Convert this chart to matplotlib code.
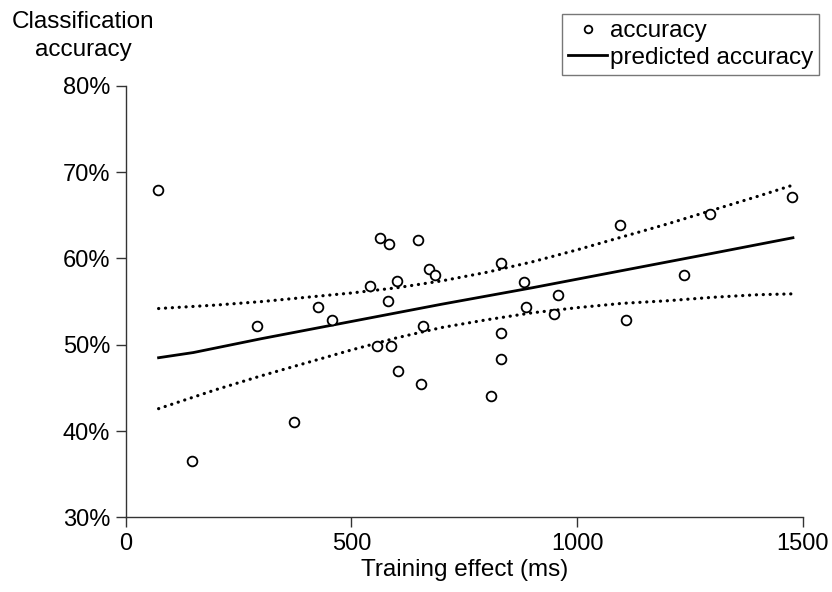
import matplotlib.pyplot as plt
from matplotlib.ticker import FuncFormatter
from matplotlib.lines import Line2D

plt.rcParams['font.family'] = ['Liberation Sans', 'DejaVu Sans']

# training effect (ms) and classification accuracy (%) per subject
training_ms = [72, 147, 290, 374, 426, 456, 541, 563, 583, 581, 600, 557, 587, 603, 648, 654,
               659, 672, 685, 809, 831, 831, 831, 883, 887, 949, 958, 1094, 1109, 1237, 1294, 1477]
accuracy = [67.9, 36.5, 52.2, 41.0, 54.4, 52.9, 56.8, 62.4, 61.7, 55.1, 57.4, 49.9, 49.9, 47.0, 62.1, 45.5,
            52.2, 58.8, 58.1, 44.1, 59.5, 51.4, 48.4, 57.3, 54.4, 53.6, 55.8, 63.9, 52.9, 58.1, 65.2, 67.1]

# regression line and confidence band
pred_x = [73, 150, 300, 500, 700, 900, 1100, 1300, 1478]
pred_y = [48.5, 49.1, 50.7, 52.7, 54.7, 56.6, 58.6, 60.6, 62.4]
band_x = [73, 200, 300, 400, 500, 600, 700, 800, 900, 1000, 1100, 1200, 1300, 1400, 1478]
band_upper = [54.2, 54.6, 55.0, 55.5, 56.0, 56.6, 57.4, 58.4, 59.6, 61.0, 62.5, 64.0, 65.6, 67.2, 68.5]
band_lower = [42.6, 44.8, 46.4, 47.9, 49.4, 50.8, 52.0, 52.9, 53.7, 54.3, 54.8, 55.1, 55.5, 55.8, 55.9]

x_ticks = [0, 500, 1000, 1500]
y_ticks = [30, 40, 50, 60, 70, 80]

FS = 17

fig = plt.figure(figsize=(8.32, 5.92), dpi=100)
ax = fig.add_axes([0.151, 0.126, 0.814, 0.729])

dot_style = dict(color='black', linewidth=2.3, linestyle=(0, (0.05, 2.1)), dash_capstyle='round')
ax.plot(band_x, band_upper, **dot_style)
ax.plot(band_x, band_lower, **dot_style)
ax.plot(pred_x, pred_y, color='black', linewidth=2.0)
ax.plot(training_ms, accuracy, linestyle='none', marker='o', markersize=7,
        markerfacecolor='white', markeredgecolor='black', markeredgewidth=1.3)

ax.set_xlim(0, 1500)
ax.set_ylim(30, 80)
ax.set_xticks(x_ticks)
ax.set_yticks(y_ticks)
ax.yaxis.set_major_formatter(FuncFormatter(lambda v, p: f"{v:.0f}%"))
for s in ['top', 'right']:
    ax.spines[s].set_visible(False)
for s in ['left', 'bottom']:
    ax.spines[s].set_color('#333333')
    ax.spines[s].set_linewidth(1.0)
ax.tick_params(direction='out', length=7, width=1.0, color='#333333', labelsize=FS, pad=4)

ax.set_xlabel('Training effect (ms)', fontsize=17.5, labelpad=3)
fig.text(83 / 832, 1 - 36 / 592, 'Classification\naccuracy', ha='center', va='center',
         fontsize=17.5, linespacing=1.3)

handles = [
    Line2D([], [], linestyle='none', marker='o', markersize=5.5, markerfacecolor='white',
           markeredgecolor='black', markeredgewidth=1.3),
    Line2D([], [], color='black', linewidth=2.0),
]
leg = fig.legend(handles, ['accuracy', 'predicted accuracy'], loc='upper right',
                 bbox_to_anchor=(819 / 832, 1 - 14 / 592), fontsize=17.5, frameon=True,
                 fancybox=False, handlelength=1.6, handletextpad=0.1, borderpad=0.25,
                 labelspacing=0.2, borderaxespad=0)
leg.get_frame().set_edgecolor('#555555')
leg.get_frame().set_linewidth(1.0)

fig.savefig('out.png', dpi=100)
